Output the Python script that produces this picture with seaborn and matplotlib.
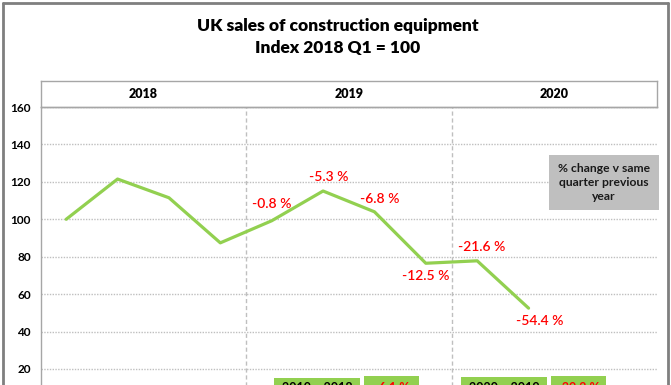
import matplotlib
matplotlib.use("Agg")
import matplotlib.pyplot as plt
from matplotlib.patches import Rectangle
from matplotlib.lines import Line2D
import seaborn as sns
import pandas as pd

# ---- data ----
quarters = ["2018 Q1", "2018 Q2", "2018 Q3", "2018 Q4",
            "2019 Q1", "2019 Q2", "2019 Q3", "2019 Q4",
            "2020 Q1", "2020 Q2"]
index_values = [100, 121.5, 111.5, 87.4, 99.2, 115.1, 104.0, 76.5, 77.8, 52.5]
pct_labels = [None, None, None, None, "-0.8 %", "-5.3 %", "-6.8 %", "-12.5 %", "-21.6 %", "-54.4 %"]
years = ["2018", "2019", "2020"]
y_ticks = [20, 40, 60, 80, 100, 120, 140, 160]
summary_labels = ["2019 v 2018", "-6.1 %", "2020 v 2019", "-39.2 %"]

title_text = "UK sales of construction equipment\nIndex 2018 Q1 = 100"
box_text = "% change v same\nquarter previous\nyear"

# ---- style ----
FONT = ["Lato", "DejaVu Sans"]
GREEN = "#92D050"
GRID = "#BFBFBF"
FRAME = "#A6A6A6"

sns.set_theme(style="white")
plt.rcParams["font.family"] = FONT

W, H = 671, 385
fig = plt.figure(figsize=(W / 100, H / 100), dpi=100)

def fx(px):
    return px / W

def fy(py):
    return 1 - py / H

left_px, right_px = 40.5, 657
top_px, zero_px = 107, 406.4
ax = fig.add_axes([fx(left_px), fy(zero_px), fx(right_px) - fx(left_px), fy(top_px) - fy(zero_px)])

df = pd.DataFrame({"pos": list(range(len(quarters))), "value": index_values, "quarter": quarters})
sns.lineplot(data=df, x="pos", y="value", ax=ax, color=GREEN, linewidth=2.3)

ax.set_xlim(-0.5, 11.5)
ax.set_ylim(0, 160)
ax.set_yticks(y_ticks)
ax.set_yticklabels([str(t) for t in y_ticks], fontweight="bold", fontsize=8.5)
ax.set_xticks([])
ax.set_xlabel("")
ax.set_ylabel("")
ax.tick_params(axis="y", direction="out", length=4, width=1, color=FRAME, pad=3, labelcolor="black")
for s in ["right", "bottom"]:
    ax.spines[s].set_visible(False)
ax.spines["left"].set_color(FRAME)
ax.spines["top"].set_color(FRAME)
ax.spines["left"].set_linewidth(1)
ax.spines["top"].set_linewidth(1)
ax.yaxis.grid(True, linestyle=(0, (1, 1)), color=GRID, linewidth=1)
ax.set_axisbelow(True)
for xv in [3.5, 7.5]:
    ax.axvline(xv, color=GRID, linestyle=(0, (3, 2)), linewidth=1, zorder=0)

# percentage annotations (offsets in points)
offsets = [None, None, None, None, (0, 12), (4, 10), (4, 9), (0, -9), (3, 10), (8, -9)]
for i, lab in enumerate(pct_labels):
    if lab is None:
        continue
    dx, dy = offsets[i]
    ax.annotate(lab, (i, index_values[i]), xytext=(dx, dy), textcoords="offset points",
                ha="center", va="center", color="#FF0000", fontsize=10, fontweight="semibold")

# header band with years
hdr = fig.add_axes([fx(left_px), fy(top_px), fx(right_px) - fx(left_px), fy(81.3) - fy(top_px)])
hdr.set_xlim(-0.5, 11.5)
hdr.set_ylim(0, 1)
hdr.set_xticks([])
hdr.set_yticks([])
for s in hdr.spines.values():
    s.set_color(FRAME)
    s.set_linewidth(1)
hdr.set_facecolor("none")
for k, yr in enumerate(years):
    hdr.text(1.5 + 4 * k, 0.5, yr, ha="center", va="center", fontsize=9, fontweight="heavy", color="black")

# title
fig.text(fx(338), fy(37), title_text, ha="center", va="center", fontsize=12.5, fontweight="heavy",
         linespacing=1.4, color="black")

# grey legend-like box
fig.add_artist(Rectangle((fx(549), fy(209.7)), fx(658.5) - fx(549), fy(155) - fy(209.7),
                         transform=fig.transFigure, facecolor="#BFBFBF", edgecolor="none", zorder=5))
fig.text(fx(603.7), fy(182.3), box_text, ha="center", va="center", fontsize=8.7, fontweight="bold",
         linespacing=1.3, color="#1a1a1a", zorder=6)

# summary boxes at the bottom (cropped in the reference as well)
boxes = [(274, 360, 378), (364, 418.7, 376), (461, 546.7, 377), (551, 606, 376)]
colors = ["black", "#FF0000", "black", "#FF0000"]
for (x0, x1, yt), lab, c in zip(boxes, summary_labels, colors):
    fig.add_artist(Rectangle((fx(x0), fy(H + 30)), fx(x1) - fx(x0), fy(yt) - fy(H + 30),
                             transform=fig.transFigure, facecolor=GREEN, edgecolor="none", zorder=5))
    fig.text(fx((x0 + x1) / 2), fy(382.5), lab, ha="center", va="top", fontsize=9, fontweight="bold",
             color=c, zorder=6)

# outer chart border
for (xa, ya, xb, yb) in [(2.5, 2.5, 2.5, H), (667.5, 2.5, 667.5, H), (2.5, 2.5, 667.5, 2.5)]:
    fig.add_artist(Line2D([fx(xa), fx(xb)], [fy(ya), fy(yb)], transform=fig.transFigure,
                          color="#7F7F7F", linewidth=2))

fig.savefig("out.png", dpi=100)
